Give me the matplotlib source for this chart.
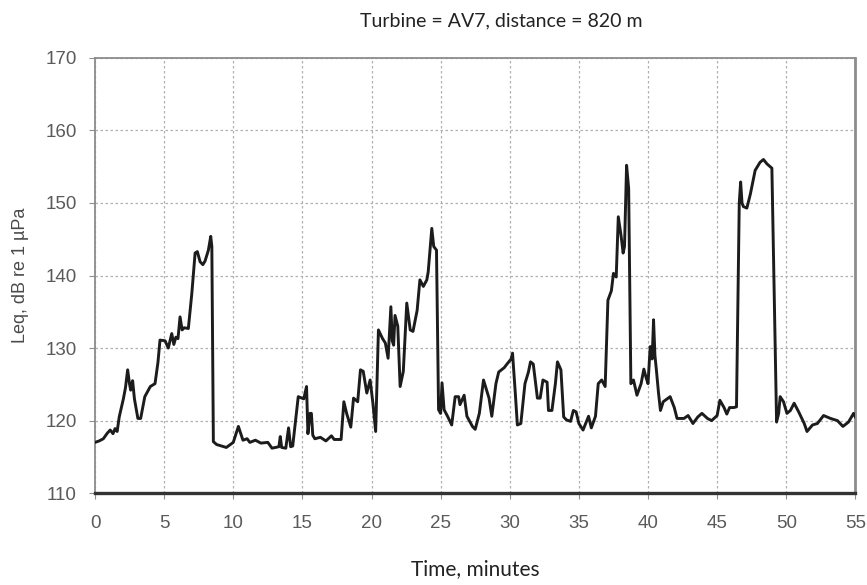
import matplotlib
matplotlib.use("Agg")
import matplotlib.pyplot as plt

time_min = [0.0, 0.3, 0.6, 0.9, 1.1, 1.3, 1.45, 1.6, 1.75, 2.05, 2.2, 2.36, 2.5, 2.58, 2.72, 2.85,
            3.1, 3.3, 3.6, 3.8, 4.0, 4.34, 4.55, 4.7, 5.07, 5.3, 5.55, 5.7, 5.85, 6.0, 6.15, 6.3,
            6.45, 6.75, 7.0, 7.24, 7.4, 7.6, 7.8, 7.96, 8.2, 8.37, 8.45, 8.56, 8.8, 9.5, 10.0,
            10.37, 10.7, 11.0, 11.2, 11.6, 12.0, 12.5, 12.8, 13.3, 13.4, 13.5, 13.8, 14.0, 14.15,
            14.3, 14.7, 15.1, 15.3, 15.4, 15.55, 15.65, 15.75, 15.9, 16.3, 16.7, 17.1, 17.3, 17.8,
            18.0, 18.2, 18.5, 18.7, 19.0, 19.2, 19.4, 19.66, 19.9, 20.1, 20.3, 20.5, 20.8, 21.0,
            21.2, 21.4, 21.5, 21.6, 21.7, 21.9, 22.07, 22.3, 22.55, 22.8, 23.0, 23.3, 23.5, 23.75,
            24.0, 24.1, 24.36, 24.5, 24.7, 24.85, 25.0, 25.1, 25.25, 25.5, 25.8, 26.05, 26.3, 26.4,
            26.7, 26.9, 27.3, 27.5, 27.8, 28.1, 28.5, 28.7, 29.0, 29.2, 29.6, 29.8, 30.1, 30.2,
            30.4, 30.55, 30.8, 31.1, 31.35, 31.5, 31.7, 32.0, 32.2, 32.4, 32.7, 32.8, 33.05, 33.3,
            33.45, 33.7, 33.9, 34.1, 34.4, 34.6, 34.8, 35.0, 35.3, 35.7, 35.9, 36.2, 36.4, 36.65,
            36.9, 37.1, 37.35, 37.5, 37.7, 37.85, 38.05, 38.2, 38.3, 38.45, 38.6, 38.76, 38.95,
            39.2, 39.5, 39.7, 39.85, 40.0, 40.16, 40.3, 40.4, 40.5, 40.6, 40.76, 40.9, 41.1, 41.6,
            41.9, 42.1, 42.6, 42.9, 43.25, 43.6, 43.9, 44.3, 44.6, 45.0, 45.2, 45.5, 45.7, 45.9,
            46.2, 46.4, 46.6, 46.7, 46.8, 46.9, 47.15, 47.4, 47.75, 48.1, 48.35, 48.6, 48.96, 49.3,
            49.45, 49.56, 49.8, 50.05, 50.3, 50.57, 50.9, 51.3, 51.5, 51.9, 52.25, 52.7, 53.2,
            53.7, 54.1, 54.5, 54.87, 55.0]

leq_db = [117.0, 117.2, 117.5, 118.3, 118.7, 118.2, 118.9, 118.5, 120.5, 123.0, 124.5, 127.0, 125.0,
          124.2, 125.5, 123.0, 120.3, 120.3, 123.3, 124.0, 124.7, 125.1, 128.0, 131.1, 131.0, 130.0,
          132.0, 130.5, 131.5, 131.3, 134.3, 132.5, 132.8, 132.7, 137.5, 143.1, 143.3, 141.9, 141.5,
          142.0, 143.5, 145.4, 144.0, 117.1, 116.7, 116.3, 117.0, 119.2, 117.3, 117.5, 117.0, 117.3,
          116.9, 117.0, 116.2, 116.4, 117.8, 116.3, 116.2, 119.0, 116.4, 116.5, 123.3, 123.0, 124.7,
          118.2, 121.0, 121.0, 118.0, 117.5, 117.7, 117.2, 117.9, 117.4, 117.4, 122.6, 121.0, 119.1,
          123.1, 122.6, 127.0, 126.8, 123.8, 125.6, 122.4, 118.5, 132.5, 131.3, 130.7, 128.6, 135.7,
          131.0, 130.4, 134.5, 133.0, 124.7, 126.8, 136.2, 132.5, 132.3, 135.2, 139.4, 138.5, 139.4,
          140.5, 146.5, 144.0, 143.5, 121.5, 121.0, 125.2, 121.5, 120.6, 119.4, 123.3, 123.3, 122.2,
          123.5, 120.6, 119.2, 118.8, 121.0, 125.6, 123.1, 120.6, 125.1, 126.7, 127.3, 127.8, 128.5,
          129.3, 123.8, 119.4, 119.6, 125.1, 126.7, 128.1, 127.8, 123.1, 123.1, 125.6, 125.3, 121.4,
          121.4, 125.1, 128.1, 127.0, 120.5, 120.1, 119.9, 121.4, 121.2, 119.6, 118.7, 120.6, 119.0,
          120.6, 125.1, 125.6, 124.7, 136.6, 137.9, 140.3, 139.8, 148.1, 145.5, 143.1, 144.0, 155.2,
          152.0, 125.1, 125.6, 123.5, 125.1, 127.1, 126.0, 125.1, 130.2, 128.5, 133.9, 129.0, 127.1,
          123.8, 121.4, 122.6, 123.3, 121.8, 120.3, 120.3, 120.7, 119.6, 120.5, 121.0, 120.3, 120.0,
          120.7, 122.8, 121.8, 120.9, 121.8, 121.8, 121.9, 150.0, 152.9, 150.0, 149.5, 149.3, 151.2,
          154.5, 155.6, 156.0, 155.4, 154.8, 119.8, 121.0, 123.3, 122.6, 121.0, 121.4, 122.4, 121.2,
          119.6, 118.5, 119.4, 119.6, 120.7, 120.3, 120.0, 119.2, 119.8, 121.0, 120.5]

x_ticks = [0, 5, 10, 15, 20, 25, 30, 35, 40, 45, 50, 55]
y_ticks = [110, 120, 130, 140, 150, 160, 170]
title = "Turbine = AV7, distance = 820 m"
x_label = "Time, minutes"
y_label = "Leq, dB re 1 µPa"

fig = plt.figure(figsize=(8.67, 5.85), dpi=100)
ax = fig.add_axes([0.1096, 0.157, 0.877, 0.744])

ax.plot(time_min, leq_db, color="#1c1c1c", lw=2.1, solid_joinstyle="round", zorder=3)

ax.set_xlim(0, 55)
ax.set_ylim(110, 170)
ax.set_xticks(x_ticks)
ax.set_yticks(y_ticks)
ax.grid(True, color="#b0b0b0", lw=0.9, linestyle=(0, (2, 2)))
ax.set_axisbelow(True)

tick_font = dict(family=["Liberation Sans", "DejaVu Sans"], size=13.5)
ax.set_xticklabels([str(t) for t in x_ticks], color="#5a5a5a", **tick_font)
ax.set_yticklabels([str(t) for t in y_ticks], color="#5a5a5a", **tick_font)
ax.tick_params(axis="both", length=4, width=0.8, color="#909090")
ax.tick_params(axis="x", pad=12)
ax.tick_params(axis="y", pad=9)

for side in ["left", "top"]:
    ax.spines[side].set_color("#8c8c8c")
    ax.spines[side].set_linewidth(1.3)
ax.spines["right"].set_color("#8c8c8c")
ax.spines["right"].set_linewidth(2.0)
ax.spines["bottom"].set_color("#333333")
ax.spines["bottom"].set_linewidth(2.4)

ax.set_ylabel(y_label, family=["Liberation Sans", "DejaVu Sans"], size=13, color="#4a4a4a", labelpad=12)
ax.set_xlabel(x_label, family=["Lato", "DejaVu Sans"], size=15, color="#222222", labelpad=19)
fig.text(0.578, 0.965, title, family=["Lato", "DejaVu Sans"], size=14,
         color="#222222", ha="center", va="center")

fig.savefig("out.png", dpi=100, facecolor="white")
